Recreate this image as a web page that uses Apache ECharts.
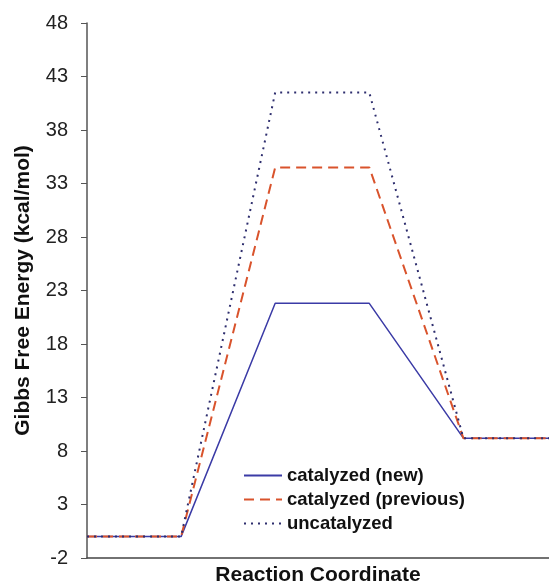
<!DOCTYPE html>
<html>
<head>
<meta charset="utf-8">
<script src="https://cdn.jsdelivr.net/npm/echarts@6/dist/echarts.min.js"></script>
<style>html,body{margin:0;padding:0;background:#fff;}#c{width:549px;height:587px;}</style>
</head>
<body>
<div id="c"></div>
<script>
const stages = [0, 1, 2, 3, 4, 5];
const catalyzedNew = [0, 0, 21.8, 21.8, 9.2, 9.2];
const catalyzedPrevious = [0, 0, 34.5, 34.5, 9.2, 9.2];
const uncatalyzed = [0, 0, 41.5, 41.5, 9.2, 9.2];
const seriesNames = ['catalyzed (new)', 'catalyzed (previous)', 'uncatalyzed'];
const yTicks = { min: -2, max: 48, step: 5 };

const pair = arr => stages.map((s, i) => [s, arr[i]]);
const chart = echarts.init(document.getElementById('c'), null, { renderer: 'canvas' });
const font = '"Liberation Sans", Arial, sans-serif';
chart.setOption({
  animation: false,
  backgroundColor: '#fff',
  grid: { left: 87, right: 0, top: 23, bottom: 29, containLabel: false, outerBoundsMode: 'none' },
  xAxis: {
    type: 'value', min: 0, max: 4.91,
    name: 'Reaction Coordinate', nameLocation: 'middle', nameGap: 7,
    nameTextStyle: { fontFamily: font, fontWeight: 'bold', fontSize: 21, color: '#111' },
    axisLine: { onZero: false, lineStyle: { color: '#444', width: 1.5 } },
    axisTick: { show: false }, axisLabel: { show: false }, splitLine: { show: false }
  },
  yAxis: {
    type: 'value', min: yTicks.min, max: yTicks.max, interval: yTicks.step,
    name: 'Gibbs Free Energy (kcal/mol)', nameLocation: 'middle', nameGap: 53,
    nameTextStyle: { fontFamily: font, fontWeight: 'bold', fontSize: 21, color: '#111' },
    axisLine: { show: true, lineStyle: { color: '#555', width: 1.5 } },
    axisTick: { show: true, length: 6, lineStyle: { color: '#555' } },
    axisLabel: { fontFamily: font, fontSize: 20, color: '#222', margin: 19 },
    splitLine: { show: false }
  },
  legend: {
    orient: 'vertical', left: 238, top: 461, itemWidth: 38, itemHeight: 12, itemGap: 5,
    itemStyle: { opacity: 0 },
    textStyle: { fontFamily: font, fontWeight: 'bold', fontSize: 18.5, color: '#111' },
    data: seriesNames
  },
  series: [
    { name: seriesNames[0], type: 'line', data: pair(catalyzedNew), symbol: 'none', clip: true,
      lineStyle: { color: '#3b3ba6', width: 1.5, type: 'solid' }, itemStyle: { color: '#3b3ba6' } },
    { name: seriesNames[1], type: 'line', data: pair(catalyzedPrevious), symbol: 'none', clip: true,
      lineStyle: { color: '#d9532c', width: 2, type: [10, 6] }, itemStyle: { color: '#d9532c' } },
    { name: seriesNames[2], type: 'line', data: pair(uncatalyzed), symbol: 'none', clip: true,
      lineStyle: { color: '#2e2e6e', width: 2, type: [2, 5] }, itemStyle: { color: '#2e2e6e' } }
  ]
});
</script>
</body>
</html>
